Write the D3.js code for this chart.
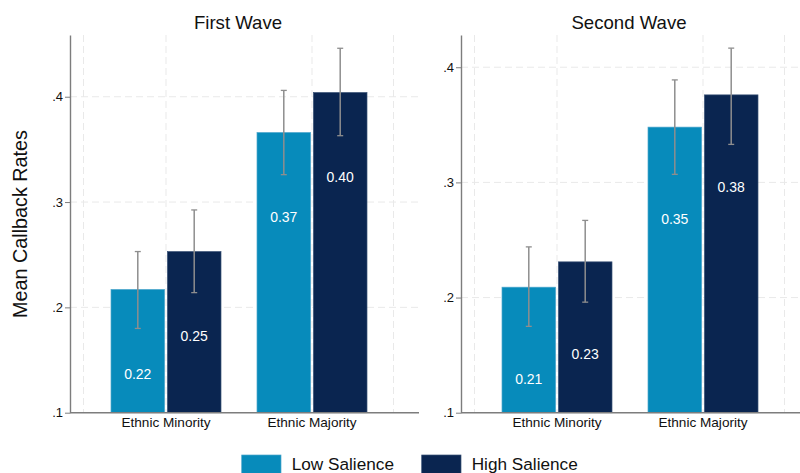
<!DOCTYPE html>
<html>
<head>
<meta charset="utf-8">
<script src="https://cdn.jsdelivr.net/npm/d3@7"></script>
<style>
  html, body { margin: 0; padding: 0; background: #fff; }
  svg { display: block; font-family: "Liberation Sans", Arial, Helvetica, sans-serif; }
</style>
</head>
<body>
<svg id="chart" width="800" height="473"></svg>
<script>
// Mean callback rates by applicant group, two survey waves
const waves = ["First Wave", "Second Wave"];
const categories = ["Ethnic Minority", "Ethnic Majority"];
const seriesNames = ["Low Salience", "High Salience"];
const seriesColors = ["#078bbb", "#0a2550"];

const firstLow = [0.217, 0.366];
const firstHigh = [0.253, 0.404];
const secondLow = [0.209, 0.348];
const secondHigh = [0.231, 0.376];

// 95% confidence intervals [lower, upper]
const firstLowCI = [[0.180, 0.253], [0.326, 0.406]];
const firstHighCI = [[0.214, 0.2925], [0.363, 0.446]];
const secondLowCI = [[0.175, 0.244], [0.307, 0.389]];
const secondHighCI = [[0.196, 0.267], [0.333, 0.4166]];

const yTicks = [0.1, 0.2, 0.3, 0.4];
const yTitle = "Mean Callback Rates";

const panels = [
  { title: waves[0], x0: 70, yMax: 0.4586,
    values: [firstLow, firstHigh], cis: [firstLowCI, firstHighCI] },
  { title: waves[1], x0: 461, yMax: 0.428,
    values: [secondLow, secondHigh], cis: [secondLowCI, secondHighCI] }
];

const svg = d3.select("#chart");
const plotTop = 35, plotBottom = 412.7, plotWidth = 349;
const fmtTick = d => d3.format(".1f")(d).replace(/^0/, "");
const fmtVal = d3.format(".2f");

panels.forEach(p => {
  const g = svg.append("g");
  const y = d3.scaleLinear().domain([0.1, p.yMax]).range([plotBottom, plotTop]);
  const xGroup = d3.scaleBand().domain(categories)
    .range([p.x0 + 23, p.x0 + 315]).paddingInner(0).paddingOuter(0);
  const xBar = d3.scaleBand().domain(seriesNames)
    .range([-55, 55]).paddingInner(0.05).paddingOuter(0);

  // vertical dashed grid
  const vGrid = [p.x0 + 13.5, ...categories.map(c => xGroup(c) + xGroup.bandwidth() / 2), p.x0 + 323.5];
  g.selectAll(".vgrid").data(vGrid).join("line")
    .attr("x1", d => d).attr("x2", d => d)
    .attr("y1", plotTop).attr("y2", plotBottom)
    .attr("stroke", "#e9e9e9").attr("stroke-width", 1)
    .attr("stroke-dasharray", "7,4");

  // horizontal dashed grid
  g.selectAll(".hgrid").data(yTicks.slice(1)).join("line")
    .attr("x1", p.x0).attr("x2", p.x0 + plotWidth)
    .attr("y1", d => y(d)).attr("y2", d => y(d))
    .attr("stroke", "#e9e9e9").attr("stroke-width", 1)
    .attr("stroke-dasharray", "7,4");

  // bars
  p.values.forEach((vals, si) => {
    g.selectAll(null).data(vals).join("rect")
      .attr("x", (d, i) => xGroup(categories[i]) + xGroup.bandwidth() / 2 + xBar(seriesNames[si]))
      .attr("width", xBar.bandwidth())
      .attr("y", d => y(d))
      .attr("height", d => y(0.1) - y(d))
      .attr("fill", seriesColors[si])
      .attr("stroke", si === 0 ? "#4ea6cc" : "#3b5377")
      .attr("stroke-width", 0.7);
  });

  // error bars
  p.cis.forEach((cis, si) => {
    const cx = i => xGroup(categories[i]) + xGroup.bandwidth() / 2 + xBar(seriesNames[si]) + xBar.bandwidth() / 2;
    const eg = g.selectAll(null).data(cis).join("g");
    eg.append("line")
      .attr("x1", (d, i) => cx(i)).attr("x2", (d, i) => cx(i))
      .attr("y1", d => y(d[0])).attr("y2", d => y(d[1]))
      .attr("stroke", "#8e8e8e").attr("stroke-width", 1.5);
    [0, 1].forEach(k => {
      eg.append("line")
        .attr("x1", (d, i) => cx(i) - 3).attr("x2", (d, i) => cx(i) + 3)
        .attr("y1", d => y(d[k])).attr("y2", d => y(d[k]))
        .attr("stroke", "#8e8e8e").attr("stroke-width", 1.3);
    });
  });

  // value labels inside bars
  p.values.forEach((vals, si) => {
    g.selectAll(null).data(vals).join("text")
      .attr("x", (d, i) => xGroup(categories[i]) + xGroup.bandwidth() / 2 + xBar(seriesNames[si]) + xBar.bandwidth() / 2)
      .attr("y", d => y(d - 0.08))
      .attr("dy", "0.36em")
      .attr("text-anchor", "middle")
      .attr("fill", "#ffffff")
      .attr("font-size", "14px")
      .text(d => fmtVal(d));
  });

  // y axis
  const yAxis = g.append("g").attr("transform", `translate(${p.x0},0)`)
    .call(d3.axisLeft(y).tickValues(yTicks).tickFormat(fmtTick).tickSize(5).tickSizeOuter(0));
  yAxis.select(".domain").attr("stroke", "#7d7d7d").attr("stroke-width", 1.4);
  yAxis.selectAll(".tick line").attr("stroke", "#7d7d7d");
  yAxis.selectAll(".tick text").attr("font-size", "13px").attr("fill", "#111")
    .attr("font-family", "Liberation Sans, Arial, sans-serif").attr("x", -7);

  // x axis line
  g.append("line")
    .attr("x1", p.x0).attr("x2", p.x0 + plotWidth)
    .attr("y1", plotBottom).attr("y2", plotBottom)
    .attr("stroke", "#7d7d7d").attr("stroke-width", 1.4);

  // category labels
  g.selectAll(".cat").data(categories).join("text")
    .attr("x", d => xGroup(d) + xGroup.bandwidth() / 2)
    .attr("y", 422.5).attr("dy", "0.36em")
    .attr("text-anchor", "middle").attr("font-size", "13.6px").attr("fill", "#111")
    .text(d => d);

  // panel title
  g.append("text")
    .attr("x", xGroup.range()[0] + (xGroup.range()[1] - xGroup.range()[0]) / 2 - 1)
    .attr("y", 28.5)
    .attr("text-anchor", "middle").attr("font-size", "18.6px").attr("fill", "#111")
    .text(p.title);
});

// y-axis title
svg.append("text")
  .attr("transform", "translate(26.5,224) rotate(-90)")
  .attr("text-anchor", "middle").attr("font-size", "19.8px").attr("fill", "#111")
  .text(yTitle);

// legend
const legendX = [241.7, 421.7];
const lg = svg.selectAll(".legend").data(seriesNames).join("g")
  .attr("transform", (d, i) => `translate(${legendX[i]},455)`);
lg.append("rect").attr("width", 39.3).attr("height", 22)
  .attr("fill", (d, i) => seriesColors[i])
  .attr("stroke", (d, i) => i === 0 ? "#4ea6cc" : "#3b5377").attr("stroke-width", 0.7);
lg.append("text").attr("x", 50).attr("y", 14.8)
  .attr("font-size", "17.2px").attr("fill", "#111")
  .text(d => d);
</script>
</body>
</html>
